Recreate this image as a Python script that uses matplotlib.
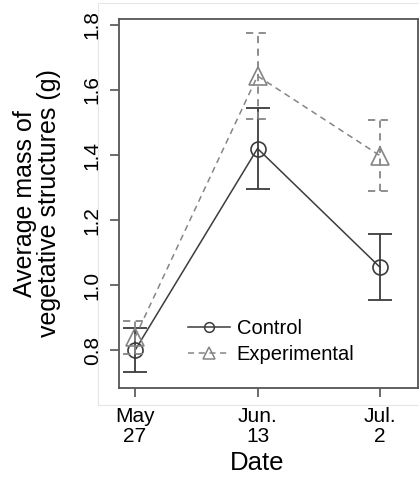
import numpy as np
import matplotlib
matplotlib.use('Agg')
import matplotlib.pyplot as plt
from matplotlib.patches import Rectangle
from matplotlib.lines import Line2D

plt.rcParams['font.family'] = ['Liberation Sans', 'DejaVu Sans']

# sampling dates and mean mass (g) with error half-widths
dates = ['May\n27', 'Jun.\n13', 'Jul.\n2']
control_mean = [0.800, 1.420, 1.055]
control_err = [0.067, 0.124, 0.101]
exp_mean = [0.840, 1.643, 1.398]
exp_err = [0.050, 0.132, 0.109]

c_ctrl = '#3c3c3c'
c_exp = '#858585'
cap = 0.098

fig = plt.figure(figsize=(4.19, 4.78), dpi=100)
ax = fig.add_axes([119/419., 90/478., 298.5/419., 369/478.])

x = np.arange(1, len(dates)+1)

def draw_series(m, e, color, ls, marker, ms):
    m = np.array(m); e = np.array(e)
    ax.vlines(x, m-e, m+e, colors=color, linestyles=ls, lw=1.3)
    ax.hlines(m-e, x-cap, x+cap, colors=color, linestyles=ls, lw=1.3)
    ax.hlines(m+e, x-cap, x+cap, colors=color, linestyles=ls, lw=1.3)
    ax.plot(x, m, color=color, ls=ls, lw=1.1, marker=marker, ms=ms,
            mfc='none', mec=color, mew=1.2)

draw_series(control_mean, control_err, c_ctrl, '-', 'o', 10.8)
draw_series(exp_mean, exp_err, c_exp, (0, (4, 3)), '^', 12.5)

ax.set_xlim(0.869, 3.306)
ax.set_ylim(0.684, 1.818)
ax.set_xticks(x)
ax.set_xticklabels(dates, fontsize=15, linespacing=1.05)
ax.set_yticks([0.8, 1.0, 1.2, 1.4, 1.6, 1.8])
ax.set_yticklabels(['0.8', '1.0', '1.2', '1.4', '1.6', '1.8'], rotation=90,
                   va='center', fontsize=15)
ax.tick_params(direction='out', length=6.5, width=1.1, color='#444444')
ax.tick_params(axis='y', pad=6)
ax.tick_params(axis='x', pad=7)
for s in ax.spines.values():
    s.set_color('#555555')
    s.set_linewidth(1.3)

ax.set_xlabel('Date', fontsize=18.5)
ax.xaxis.set_label_coords(0.463, -0.17)
ax.xaxis.label.set_va('top')
ax.set_ylabel('Average mass of\nvegetative structures (g)', fontsize=18,
              linespacing=1.0, multialignment='center')
ax.yaxis.label.set_va('center')
ax.yaxis.set_label_coords(-0.275, 0.5)

handles = [Line2D([], [], color=c_ctrl, lw=1.1, marker='o', ms=7, mfc='none', mew=1.1),
           Line2D([], [], color=c_exp, lw=1.1, ls=(0, (4, 3)), marker='^', ms=9, mfc='none', mew=1.1)]
ax.legend(handles, ['Control', 'Experimental'], loc='upper left',
          bbox_to_anchor=(0.198, 0.215), frameon=False, fontsize=14.5,
          handlelength=2.1, handletextpad=0.3, labelspacing=0.35, borderpad=0.0)

# faint frame of the surrounding panel
fig.add_artist(Rectangle((98/419., (478-405)/478.), 0.9, 402/478., transform=fig.transFigure,
                         fill=False, ec='#e6e6e6', lw=0.8, zorder=0))

fig.savefig('out.png', dpi=100)
